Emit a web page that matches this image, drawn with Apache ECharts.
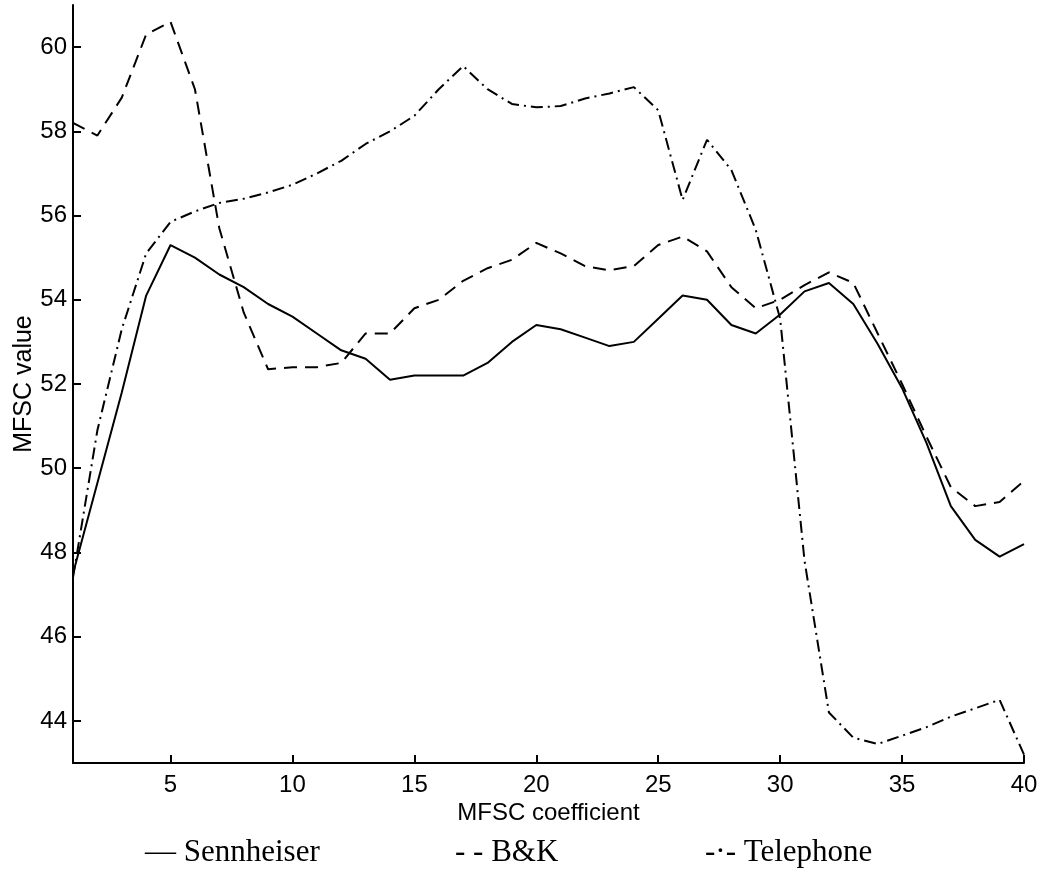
<!DOCTYPE html>
<html>
<head>
<meta charset="utf-8">
<title>MFSC value per coefficient</title>
<script src="https://cdn.jsdelivr.net/npm/echarts@6/dist/echarts.min.js"></script>
<style>
  html, body { margin: 0; padding: 0; background: #fff; }
  #chart { width: 1047px; height: 882px; }
</style>
</head>
<body>
<div id="chart"></div>
<script>
// MFSC coefficient index (x axis)
var coefficients = [1, 2, 3, 4, 5, 6, 7, 8, 9, 10, 11, 12, 13, 14, 15, 16, 17, 18, 19, 20,
  21, 22, 23, 24, 25, 26, 27, 28, 29, 30, 31, 32, 33, 34, 35, 36, 37, 38, 39, 40]

// MFSC values, one per coefficient
var sennheiser = [47.5, 49.65, 51.8, 54.1, 55.3, 55.0, 54.6, 54.3, 53.9, 53.6,
  53.2, 52.8, 52.6, 52.1, 52.2, 52.2, 52.2, 52.5, 53.0, 53.4,
  53.3, 53.1, 52.9, 53.0, 53.55, 54.1, 54.0, 53.4, 53.2, 53.65,
  54.2, 54.4, 53.9, 52.95, 51.9, 50.6, 49.1, 48.3, 47.9, 48.2]

var bk = [58.2, 57.9, 58.8, 60.3, 60.6, 59.0, 55.7, 53.7, 52.35, 52.4,
  52.4, 52.5, 53.2, 53.2, 53.8, 54.0, 54.45, 54.75, 54.95, 55.35,
  55.1, 54.8, 54.7, 54.8, 55.3, 55.5, 55.15, 54.3, 53.8, 54.0,
  54.35, 54.65, 54.4, 53.2, 52.0, 50.75, 49.55, 49.1, 49.2, 49.7]

var telephone = [47.4, 50.9, 53.3, 55.1, 55.85, 56.1, 56.3, 56.4, 56.55, 56.73,
  57.0, 57.3, 57.7, 58.0, 58.37, 59.0, 59.55, 59.0, 58.65, 58.57,
  58.6, 58.78, 58.9, 59.05, 58.5, 56.37, 57.8, 57.08, 55.66, 53.55,
  47.8, 44.2, 43.6, 43.45, 43.65, 43.85, 44.1, 44.3, 44.5, 43.2]

// tick labels
var xTicks = [5, 10, 15, 20, 25, 30, 35, 40]
var yTicks = [44, 46, 48, 50, 52, 54, 56, 58, 60]

var seriesNames = ['Sennheiser', 'B&K', 'Telephone']
var legendLabels = ['— Sennheiser', '- - B&K', '-·- Telephone']

function pairs (values) {
  return coefficients.map(function (c, i) {
    return [c, values[i]]
  })
}

var chart = echarts.init(document.getElementById('chart'))

var sans = 'Liberation Sans'
var black = '#000'

var lineTypes = ['solid', [13, 8], [12, 5, 2, 5]]
var lineData = [sennheiser, bk, telephone]
var legendLeft = [135, 445, 695]

var option = {
  animation: false,
  backgroundColor: '#fff',
  grid: {
    left: 73,
    right: 23,
    top: 5,
    bottom: 119,
    outerBoundsMode: 'none'
  },
  legend: seriesNames.map(function (name, i) {
    return {
      data: [name],
      left: legendLeft[i],
      top: 832,
      icon: 'none',
      itemWidth: 0,
      itemHeight: 0,
      selectedMode: false,
      formatter: legendLabels[i],
      textStyle: {
        fontFamily: 'Liberation Serif',
        fontSize: 31,
        color: black
      }
    }
  }),
  xAxis: {
    type: 'value',
    min: 1,
    max: 40,
    name: 'MFSC coefficient',
    nameLocation: 'middle',
    nameGap: 38,
    nameMoveOverlap: false,
    nameTextStyle: { fontFamily: sans, fontSize: 24, color: black },
    axisLine: { lineStyle: { color: black, width: 2 } },
    axisTick: {
      inside: true,
      length: 8,
      customValues: xTicks,
      lineStyle: { color: black, width: 2 }
    },
    axisLabel: {
      customValues: xTicks,
      margin: 10,
      fontFamily: sans,
      fontSize: 24,
      color: black
    },
    splitLine: { show: false }
  },
  yAxis: {
    type: 'value',
    min: 43,
    max: 61,
    name: 'MFSC value',
    nameLocation: 'middle',
    nameRotate: 90,
    nameGap: 36,
    nameMoveOverlap: false,
    nameTextStyle: { fontFamily: sans, fontSize: 25, color: black },
    axisLine: { show: true, lineStyle: { color: black, width: 2 } },
    axisTick: {
      show: true,
      inside: true,
      length: 8,
      customValues: yTicks,
      lineStyle: { color: black, width: 2 }
    },
    axisLabel: {
      customValues: yTicks,
      margin: 6,
      fontFamily: sans,
      fontSize: 24,
      color: black
    },
    splitLine: { show: false }
  },
  series: seriesNames.map(function (name, i) {
    return {
      name: name,
      type: 'line',
      data: pairs(lineData[i]),
      symbol: 'none',
      clip: true,
      lineStyle: { color: black, width: 2, type: lineTypes[i] },
      itemStyle: { color: black }
    }
  })
}

chart.setOption(option)
</script>
</body>
</html>
